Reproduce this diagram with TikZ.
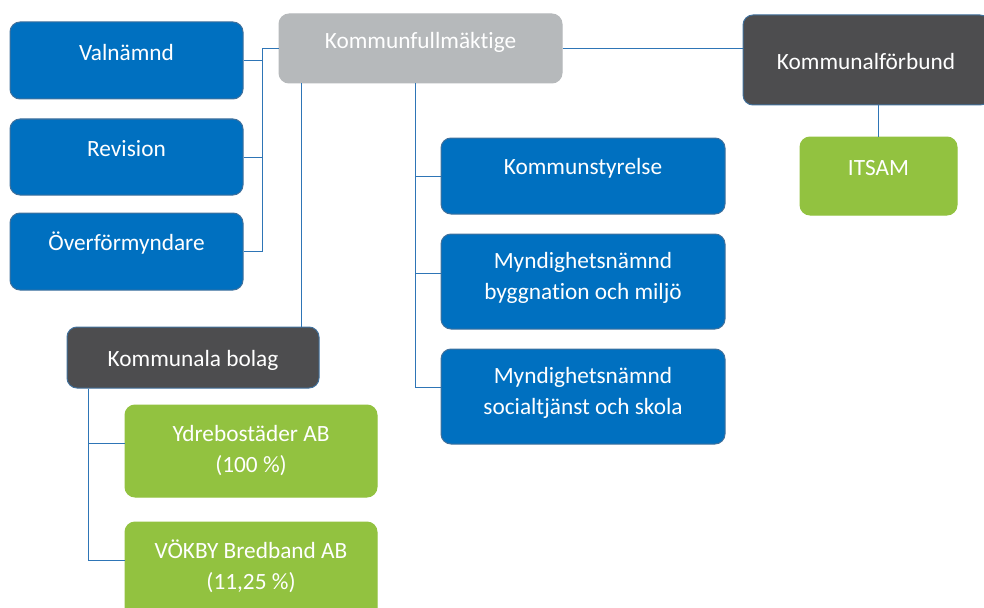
\documentclass[tikz,border=0pt]{standalone}
\usepackage{fontspec}
\setmainfont[Ligatures=NoCommon]{Carlito}
\usetikzlibrary{calc}
\definecolor{bblue}{HTML}{0070C0}
\definecolor{bedge}{HTML}{41719C}
\definecolor{ggreen}{HTML}{92C240}
\definecolor{lgray}{HTML}{B6B9BB}
\definecolor{dgray}{HTML}{4D4D4F}
\definecolor{conn}{HTML}{2E75B6}
\begin{document}
\begin{tikzpicture}[x=1pt,y=-1pt,
  box/.style={rectangle,rounded corners=10pt,inner sep=0pt,line width=1pt},
  bluebox/.style={box,fill=bblue,draw=bedge},
  greenbox/.style={box,fill=ggreen,draw=ggreen},
  graybox/.style={box,fill=lgray,draw=lgray},
  darkbox/.style={box,fill=dgray,draw=bedge},
  txt/.style={text=white,align=center,inner sep=0pt,font=\fontsize{23.3}{30.5}\selectfont},
  link/.style={draw=conn,line width=0.9pt}]
\useasboundingbox (0,0) rectangle (984,607);
% boxes
\node[bluebox,minimum width=233,minimum height=77] (val) at (126.5,60.5) {};
\node[bluebox,minimum width=233,minimum height=76] (rev) at (126.5,157) {};
\node[bluebox,minimum width=233,minimum height=77] (ovf) at (126.5,251.5) {};
\node[graybox,minimum width=283,minimum height=69] (kf) at (420.5,48.5) {};
\node[darkbox,minimum width=247,minimum height=90] (kforb) at (866.5,60) {};
\node[greenbox,minimum width=157,minimum height=78] (itsam) at (878.5,176) {};
\node[bluebox,minimum width=284,minimum height=76] (ks) at (583,176) {};
\node[bluebox,minimum width=284,minimum height=95] (mb) at (583,281.5) {};
\node[bluebox,minimum width=284,minimum height=95] (ms) at (583,396.5) {};
\node[darkbox,minimum width=252,minimum height=61] (kb) at (193,357.5) {};
\node[greenbox,minimum width=252,minimum height=92] (ydre) at (251,451) {};
\node[greenbox,minimum width=252,minimum height=98] (vok) at (251,571) {};
% texts
\node[txt] (valt) at (126.5,52) {Valnämnd};
\node[txt] (revt) at (126.5,149) {Revision};
\node[txt] (ovft) at (126.5,243) {Överförmyndare};
\node[txt] (kft) at (420.5,42) {Kommunfullmäktige};
\node[txt] (kforbt) at (866,61) {Kommunalförbund};
\node[txt] (itsamt) at (878.5,168) {ITSAM};
\node[txt] (kst) at (583,168) {Kommunstyrelse};
\node[txt] (mbt) at (583,278) {Myndighetsnämnd\\byggnation och miljö};
\node[txt] (mst) at (583,393) {Myndighetsnämnd\\socialtjänst och skola};
\node[txt] (kbt) at (193,360) {Kommunala bolag};
\node[txt] (ydret) at (251,450.5) {Ydrebostäder AB\\(100 \%)};
\node[txt] (vokt) at (251,566.5) {VÖKBY Bredband AB\\(11,25 \%)};
% connectors
\coordinate (jl) at (262,48.5);
\coordinate (cb) at (301,0);
\coordinate (cr) at (415,0);
\coordinate (cs) at (88,0);
\draw[link] (kf.west) -- (jl) |- (ovf.east);
\draw[link] (val.east) -- (val.east -| jl);
\draw[link] (rev.east) -- (rev.east -| jl);
\draw[link] (kf.south -| cb) -- (kb.north -| cb);
\draw[link] (kf.south -| cr) |- ($(ms.west)+(0,-9)$);
\draw[link] (ks.west) -- (ks.west -| cr);
\draw[link] ($(mb.west)+(0,-8)$) -- ($(mb.west -| cr)+(0,-8)$);
\draw[link] (kf.east) -- (kf.east -| kforb.west);
\draw[link] (itsam.north) -- (itsam.north |- kforb.south);
\draw[link] (kb.south -| cs) |- ($(vok.west)+(0,-11)$);
\draw[link] ($(ydre.west)+(0,-8)$) -- ($(ydre.west -| cs)+(0,-8)$);
\end{tikzpicture}
\end{document}
